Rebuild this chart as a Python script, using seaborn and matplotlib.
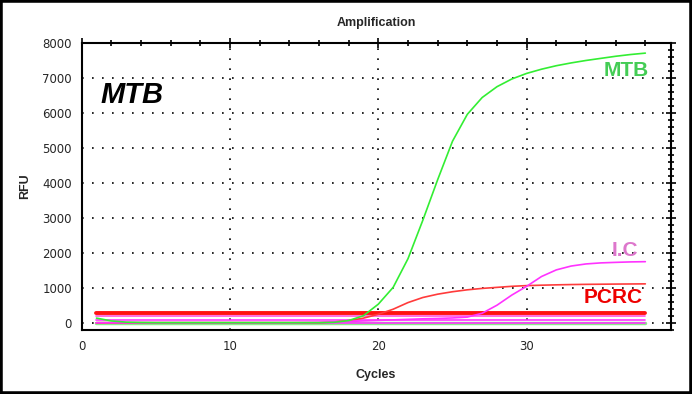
import matplotlib
matplotlib.use('Agg')
import matplotlib.pyplot as plt
import seaborn as sns
import pandas as pd
from matplotlib.patches import Rectangle
from matplotlib.ticker import MultipleLocator

# cycles and RFU values
cycles = list(range(1, 39))
mtb = [130, 50, 15, 5, 0, 0, 0, 0, 0, 0, 0, 0, 0, 0, 0, 0,
       10, 60, 200, 530, 1010, 1830, 2930, 4090, 5190, 5960, 6440, 6750,
       6970, 7130, 7250, 7350, 7430, 7500, 7560, 7620, 7670, 7710]
pcrc = [0, 0, 0, 0, 0, 0, 0, 0, 0, 0, 0, 0, 0, 0, 0, 0,
        20, 60, 130, 240, 385, 575, 720, 815, 885, 940, 980, 1010,
        1040, 1060, 1072, 1082, 1090, 1096, 1100, 1104, 1107, 1110]
ic = [0, 0, 0, 0, 0, 0, 0, 0, 0, 0, 0, 0, 0, 0,
      5, 10, 20, 35, 50, 65, 80, 95, 110, 120, 135, 160, 270, 500,
      790, 1040, 1320, 1510, 1620, 1680, 1710, 1725, 1738, 1745]

# flat traces (level, colour, width)
flat_levels = [-20, 0, 80, 200, 280]
flat_colors = ['#88ee88', '#ff33ff', '#ff33ff', '#ff55dd', '#ff1111']
flat_widths = [2.5, 1.2, 1.2, 1.2, 2.8]

sns.set_style('white')
plt.rcParams['font.family'] = ['Liberation Sans', 'DejaVu Sans']

fig = plt.figure(figsize=(6.92, 3.94), dpi=100)
ax = fig.add_axes([0.118, 0.1624, 0.851, 0.7285])

for lvl, col, lw in zip(flat_levels, flat_colors, flat_widths):
    sns.lineplot(x=[cycles[0], cycles[-1]], y=[lvl, lvl], color=col, lw=lw, ax=ax)

df = pd.DataFrame({'Cycles': cycles, 'MTB': mtb, 'PCRC': pcrc, 'IC': ic})
sns.lineplot(data=df, x='Cycles', y='PCRC', color='#ff3b3b', lw=1.2, ax=ax)
sns.lineplot(data=df, x='Cycles', y='IC', color='#ff33ff', lw=1.2, ax=ax)
sns.lineplot(data=df, x='Cycles', y='MTB', color='#33ee33', lw=1.2, ax=ax)

ax.set_xlim(0, 39.7)
ax.set_ylim(-210, 8000)
ax.xaxis.set_major_locator(MultipleLocator(10))
ax.xaxis.set_minor_locator(MultipleLocator(2))
ax.yaxis.set_major_locator(MultipleLocator(1000))
ax.yaxis.set_minor_locator(MultipleLocator(200))
ax.grid(True, which='major', color='black', ls=(0, (1, 5)), lw=1.2)

ax.tick_params(which='both', direction='inout', top=True, right=True,
               color='black', labelsize=8.5, width=1.2)
ax.tick_params(which='major', length=7)
ax.tick_params(which='minor', length=5)
for lab in ax.get_xticklabels() + ax.get_yticklabels():
    lab.set_family('DejaVu Sans')
for sp in ax.spines.values():
    sp.set_linewidth(1.5)
    sp.set_color('black')

ax.set_title('Amplification', fontsize=9, fontweight='bold', pad=12)
ax.set_xlabel('Cycles', fontsize=9, fontweight='bold', labelpad=12)
ax.set_ylabel('RFU', fontsize=9, fontweight='bold', labelpad=8)

ax.text(3.36, 6520, 'MTB', fontsize=21, fontweight='bold', fontstyle='italic',
        ha='center', va='center', color='black')
ax.text(36.7, 7210, 'MTB', fontsize=15, fontweight='bold', ha='center', va='center', color='#44cc55')
ax.text(36.65, 2070, 'I.C', fontsize=15, fontweight='bold', ha='center', va='center', color='#dd77cc')
ax.text(35.8, 710, 'PCRC', fontsize=15, fontweight='bold', ha='center', va='center', color='#ee0000')

fig.patches.append(Rectangle((0, 0), 1, 1, transform=fig.transFigure,
                             fill=False, ec='black', lw=4))

fig.savefig('out.png', dpi=100)
